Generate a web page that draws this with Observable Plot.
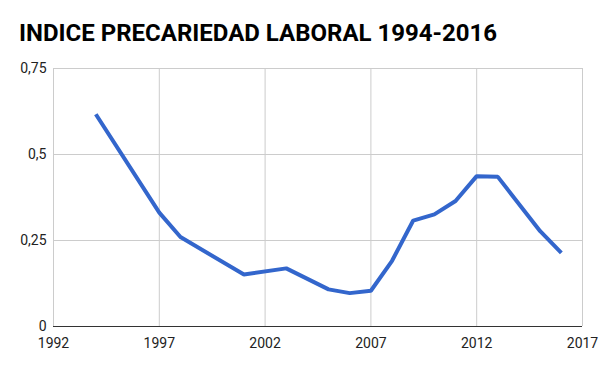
<!DOCTYPE html>
<html>
<head>
<meta charset="utf-8">
<script src="https://cdn.jsdelivr.net/npm/d3@7"></script>
<script src="https://cdn.jsdelivr.net/npm/@observablehq/plot@0.6"></script>
<style>
  html, body { margin: 0; padding: 0; background: #fff; }
  #wrap { width: 600px; }
  #title { position: relative; height: 50px; font-family: Roboto, sans-serif; }
  #title span { position: absolute; left: 19px; top: 22px; font-size: 24px; line-height: 22px; font-weight: 700; color: #000; white-space: nowrap; }
  svg { display: block; }
</style>
</head>
<body>
<div id="wrap">
  <div id="title"><span>INDICE PRECARIEDAD LABORAL 1994-2016</span></div>
  <div id="chart"></div>
</div>
<script>
const years  = [1994, 1997, 1998, 2001, 2003, 2005, 2006, 2007, 2008, 2009, 2010, 2011, 2012, 2013, 2015, 2016];
const values = [0.617, 0.331, 0.260, 0.151, 0.169, 0.108, 0.097, 0.104, 0.191, 0.308, 0.326, 0.365, 0.437, 0.435, 0.277, 0.214];
const xTicks = [1992, 1997, 2002, 2007, 2012, 2017];
const yTicks = [0, 0.25, 0.5, 0.75];

const data = years.map((y, i) => ({year: y, value: values[i]}));

const chart = Plot.plot({
  width: 600,
  height: 321,
  marginTop: 18,
  marginBottom: 45,
  marginLeft: 53,
  marginRight: 18,
  style: {fontFamily: "Roboto, sans-serif", fontSize: "14px", color: "#222", background: "#fff"},
  x: {domain: [1992, 2017], ticks: xTicks, tickFormat: d => String(d), tickSize: 0, tickPadding: 12, label: null},
  y: {domain: [0, 0.75], ticks: yTicks, tickFormat: d => String(d).replace(".", ","), tickSize: 0, tickPadding: 7, label: null},
  marks: [
    Plot.ruleX(xTicks, {stroke: "#cccccc", strokeWidth: 1, strokeOpacity: 1}),
    Plot.ruleY(yTicks.filter(d => d > 0), {stroke: "#cccccc", strokeWidth: 1, strokeOpacity: 1}),
    Plot.ruleY([0], {stroke: "#333333", strokeWidth: 1.2}),
    Plot.line(data, {x: "year", y: "value", stroke: "#3366cc", strokeWidth: 4, strokeLinejoin: "miter", strokeLinecap: "butt"}),
    Plot.axisX({ticks: xTicks, tickFormat: d => String(d), tickSize: 0, tickPadding: 12, fill: "#222"}),
    Plot.axisY({ticks: yTicks, tickFormat: d => String(d).replace(".", ","), tickSize: 0, tickPadding: 7, fill: "#222"})
  ]
});
document.getElementById("chart").appendChild(chart);
</script>
</body>
</html>
